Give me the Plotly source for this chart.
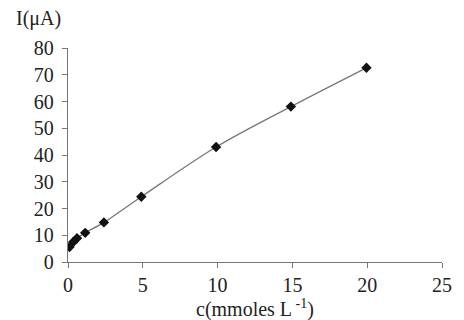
import plotly.graph_objects as go

conc = [0.1, 0.35, 0.6, 1.15, 2.4, 4.9, 9.9, 14.9, 19.95]
current = [5.6, 7.5, 8.9, 10.9, 14.8, 24.4, 43.0, 58.1, 72.6]

x_ticks = [0, 5, 10, 15, 20, 25]
y_ticks = [0, 10, 20, 30, 40, 50, 60, 70, 80]

font = dict(family="Liberation Serif, Times New Roman, serif", size=20, color="#222222")

fig = go.Figure()
fig.add_trace(go.Scatter(
    x=conc, y=current, mode="lines+markers",
    line=dict(color="#777777", width=1.3, shape="spline"),
    marker=dict(symbol="diamond", size=8, color="#111111"),
    showlegend=False,
))

fig.update_layout(
    width=464, height=320,
    margin=dict(l=68, r=17, t=48, b=58),
    paper_bgcolor="white", plot_bgcolor="white",
    font=font,
    xaxis=dict(range=[0, 25], tickvals=x_ticks, showgrid=False, zeroline=False,
               showline=True, linecolor="#777777", linewidth=1.3,
               ticks="outside", ticklen=5, tickcolor="#777777",
               tickfont=font, ticklabelstandoff=0, fixedrange=True),
    yaxis=dict(range=[0, 80], tickvals=y_ticks, showgrid=False, zeroline=False,
               showline=True, linecolor="#777777", linewidth=1.3,
               ticks="outside", ticklen=5, tickcolor="#777777",
               tickfont=font, ticklabelstandoff=4, fixedrange=True),
    annotations=[
        dict(text="I(μA)", xref="paper", yref="paper", x=-0.078, y=1.14,
             xanchor="center", yanchor="middle", showarrow=False, font=font),
        dict(text="c(mmoles L<sup> -1</sup>)", xref="paper", yref="paper",
             x=0.50, y=-0.218, xanchor="center", yanchor="middle",
             showarrow=False, font=font),
    ],
)

fig.write_html("out.html")
